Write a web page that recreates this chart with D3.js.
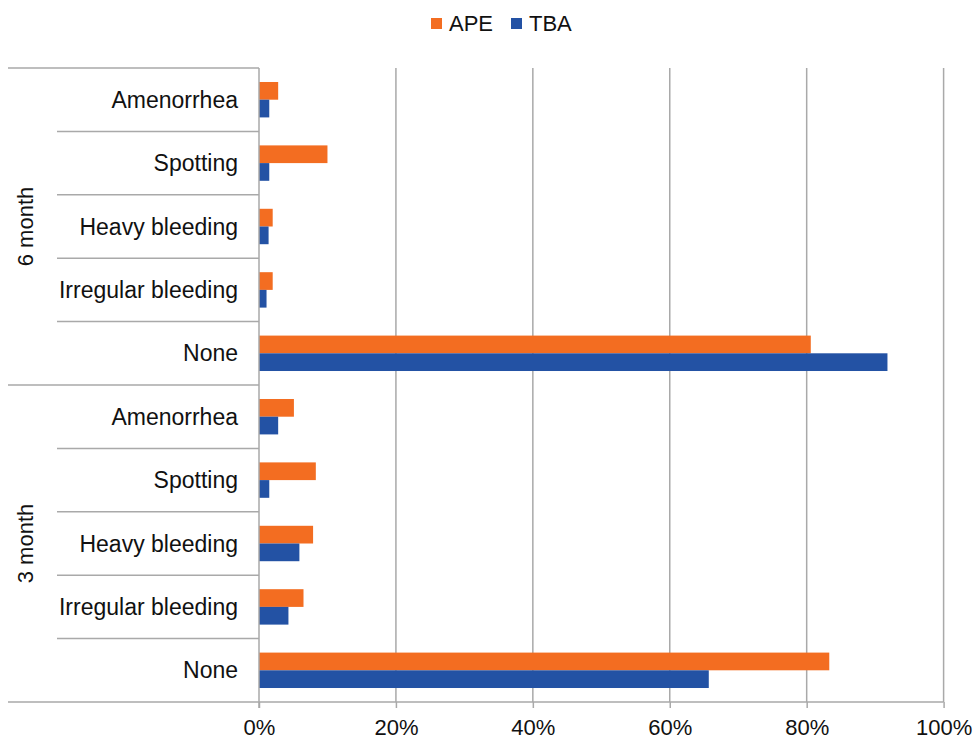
<!DOCTYPE html>
<html>
<head>
<meta charset="utf-8">
<script src="https://cdn.jsdelivr.net/npm/d3@7"></script>
<style>
  body { margin: 0; background: #fff; }
  svg text { font-family: "Liberation Sans", Arial, sans-serif; fill: #111; }
</style>
</head>
<body>
<div id="chart"></div>
<script>
// data (percent)
const groups = ["6 month", "3 month"];
const categories = ["Amenorrhea", "Spotting", "Heavy bleeding", "Irregular bleeding", "None"];
const seriesNames = ["APE", "TBA"];
const seriesColors = ["#f36d21", "#2352a4"];
const ape6 = [2.8, 10.0, 2.0, 2.0, 80.6];
const tba6 = [1.5, 1.5, 1.4, 1.1, 91.8];
const ape3 = [5.1, 8.3, 7.9, 6.5, 83.3];
const tba3 = [2.8, 1.5, 5.9, 4.3, 65.7];
const xTicks = [0, 20, 40, 60, 80, 100];

const values = { "6 month": [ape6, tba6], "3 month": [ape3, tba3] };

let rows = [];
for (let g of groups) {
    categories.forEach((c, i) => {
        rows.push({ key: g + "|" + c, group: g, cat: c, vals: values[g].map(s => s[i]) });
    });
}

const width = 974, height = 740;
const svg = d3.select("#chart").append("svg")
    .attr("width", width)
    .attr("height", height);

const x = d3.scaleLinear().domain([0, 100]).range([259, 943.6]);
const y = d3.scaleBand().domain(rows.map(r => r.key)).range([68, 702]);
const ySub = d3.scaleBand().domain(seriesNames).range([0, y.bandwidth()])
    .paddingInner(0).paddingOuter(0.79);

const gridColor = "#a9a9a9";
const plotTop = y.range()[0], plotBottom = y.range()[1];

// vertical grid
svg.append("g").selectAll("line").data(xTicks.slice(1)).join("line")
    .attr("x1", d => x(d)).attr("x2", d => x(d))
    .attr("y1", plotTop).attr("y2", plotBottom)
    .attr("stroke", gridColor).attr("stroke-width", 1.5);

// bars
let rowG = svg.append("g").selectAll("g").data(rows).join("g")
    .attr("transform", r => `translate(0,${y(r.key)})`);
rowG.selectAll("rect").data(r => r.vals.map((v, i) => ({ v: v, s: seriesNames[i], c: seriesColors[i] })))
    .join("rect")
    .attr("x", x(0))
    .attr("y", d => ySub(d.s))
    .attr("width", d => x(d.v) - x(0))
    .attr("height", ySub.bandwidth())
    .attr("fill", d => d.c);

// x axis
const xAxis = d3.axisBottom(x).tickValues(xTicks).tickFormat(d => d + "%")
    .tickSize(6).tickPadding(11);
const xg = svg.append("g").attr("transform", `translate(0,${plotBottom})`).call(xAxis);
xg.select(".domain").remove();
xg.selectAll(".tick line").attr("stroke", gridColor).attr("stroke-width", 1.5);
xg.selectAll(".tick text").attr("font-size", 22).attr("fill", "#111")
    .attr("font-family", "Liberation Sans, Arial, sans-serif");

// axis lines
svg.append("line")
    .attr("x1", x(0)).attr("x2", x(0)).attr("y1", plotTop).attr("y2", plotBottom + 6)
    .attr("stroke", gridColor).attr("stroke-width", 1.5);
svg.append("line")
    .attr("x1", 8).attr("x2", x(100)).attr("y1", plotBottom).attr("y2", plotBottom)
    .attr("stroke", gridColor).attr("stroke-width", 1.5);

// left separators
let seps = [];
rows.forEach((r, i) => {
    if (r.cat == categories[0]) seps.push({ y: y(r.key), x1: 8 });
    else seps.push({ y: y(r.key), x1: 57 });
});
svg.append("g").selectAll("line").data(seps).join("line")
    .attr("x1", d => d.x1).attr("x2", x(0))
    .attr("y1", d => d.y).attr("y2", d => d.y)
    .attr("stroke", gridColor).attr("stroke-width", 1.5);

// category labels
svg.append("g").selectAll("text").data(rows).join("text")
    .attr("x", 238)
    .attr("y", r => y(r.key) + y.bandwidth() / 2)
    .attr("dy", "0.35em")
    .attr("text-anchor", "end")
    .attr("font-size", 23)
    .text(r => r.cat);

// group labels
svg.append("g").selectAll("text").data(groups).join("text")
    .attr("transform", g => {
        let ks = rows.filter(r => r.group == g);
        let cy = (y(ks[0].key) + y(ks[ks.length - 1].key) + y.bandwidth()) / 2;
        return `translate(33,${cy}) rotate(-90)`;
    })
    .attr("text-anchor", "middle")
    .attr("font-size", 22)
    .text(g => g);

// legend
const legendPos = [431, 511];
let leg = svg.append("g").selectAll("g").data(seriesNames).join("g")
    .attr("transform", (d, i) => `translate(${legendPos[i]},18)`);
leg.append("rect").attr("width", 11).attr("height", 11)
    .attr("fill", (d, i) => seriesColors[i]);
leg.append("text").attr("x", 18).attr("y", 5.5).attr("dy", "0.35em")
    .attr("font-size", 22)
    .text(d => d);
</script>
</body>
</html>
